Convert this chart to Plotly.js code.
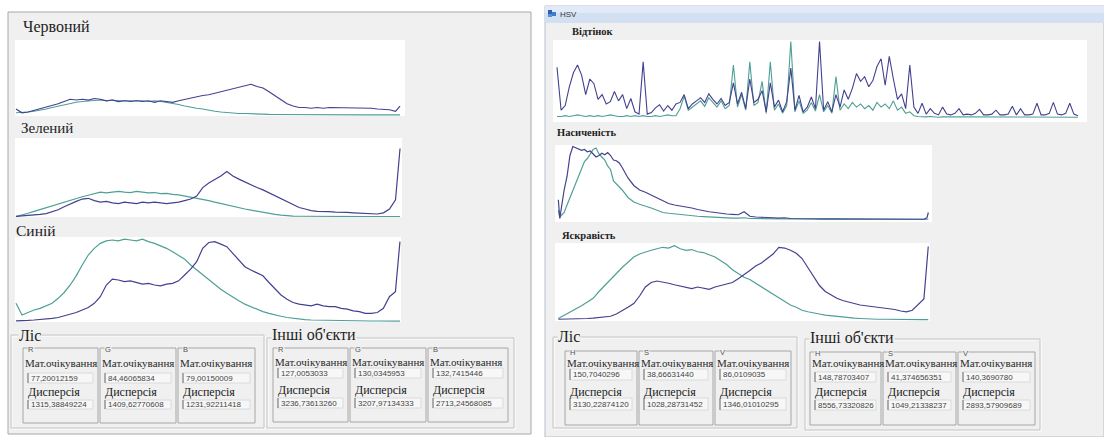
<!DOCTYPE html>
<html>
<head>
<meta charset="utf-8">
<script src="https://cdn.plot.ly/plotly-3.0.1.min.js"></script>
<style>
  html, body { margin: 0; padding: 0; background: #ffffff; }
  #chart { width: 1104px; height: 437px; }
</style>
</head>
<body>
<div id="chart"></div>
<script>
// ---------- Histogram data: bin index -> relative frequency (% of panel height) ----------
const bins4 = [0,4,8,12,16,20,24,28,32,36,40,44,48,52,56,60,64,68,72,76,80,84,88,92,96,100,104,108,112,116,120,124,128,132,136,140,144,148,152,156,160,164,168,172,176,180,184,188,192,196,200,204,208,212,216,220,224,228,232,236,240,244,248,252,255];

// RGB window
const redForest  = [8,3,4,6,8,10,12,15,18,21,20,21,20,22,21,19,20,18,19,18,19,18,19,17,19,18,17,19,21,23,24,26,27,29,30,32,34,36,39,41,38,36,31,26,20,15,12,10,10,9,10,9,10,10,9,10,9,9,10,9,8,8,7,5,12];
const redOther   = [3,3,4,5,6,8,10,12,14,16,17,18,19,20,20,19,20,19,19,20,19,19,18,19,18,17,16,14,12,10,9,8,6,5,4,3,3,2,2,1.5,1.2,1,0.8,0.7,0.6,0.5,0.5,0.4,0.4,0.4,0.3,0.3,0.3,0.3,0.3,0.3,0.2,0.2,0.2,0.2,0.2,0.2,0.2,0.2,0.2];
const greenForest= [0.5,1,2,2.5,3,4,6,9,13,17,20,23,24,21,19,20,18,17,19,18,17,19,18,19,18,17,18,19,21,23,27,38,44,48,53,59,53,49,45,42,38,35,31,27,23,19,15,12,10,8,7,7,6.5,6,6,5.5,5,4.5,4,3.5,3.5,5,10,22,89];
const greenOther = [0,2,4.5,7,9.5,12,14,16.5,19,21,23.5,26,28,30,32,31,32,33,32,31.5,33,32,31,31.5,30,30.5,29,28.5,27,26,24.5,23,21,19,17,15,13,11.5,10,8.5,7,5.5,4,3,2,1.2,0.8,0.6,0.5,0.5,0.4,0.4,0.4,0.3,0.3,0.3,0.3,0.3,0.3,0.2,0.2,0.2,0.2,0.2,0.2];
const blueForest = [1,1,1.5,2,2.5,3,4,5,7,9,11,14,17,22,30,44,51,50,48,49,47,45,46,44,43,45,46,49,56,63,72,88,95,96,93,90,82,74,66,62,58,55,47,39,32,27,23,21,20,19,21,19,18,18,16,15,13,12,10,10,11,16,30,36,96];
const blueOther  = [22,8,11,14,16,19,22,28,35,44,55,68,80,88,94,97,98,97,99,98,97,99,96,94,91,88,84,80,75,68,62,56,50,44,39,34,29,25,21,18,15,12,10,8,6.5,5,4,3,2.5,2,1.8,1.6,1.5,1.4,1.2,1.1,1,1,0.9,0.8,0.8,0.7,0.7,0.6,0.6];

// HSV window
const hueBins = [0,2,4,6,8,10,12,14,16,18,20,22,24,26,28,30,32,34,36,38,40,42,44,46,48,50,52,54,56,58,60,62,64,66,68,70,72,74,76,78,80,82,84,86,88,90,92,94,96,98,100,102,104,106,108,110,112,114,116,118,120,122,124,126,128,130,132,134,136,138,140,142,144,146,148,150,152,154,156,158,160,162,164,166,168,170,172,174,176,178,180,182,184,186,188,190,192,194,196,198,200,202,204,206,208,210,212,214,216,218,220,222,224,226,228,230,232,234,236,238,240,242,244,246,248,250,252,254];
const hueForest = [65,10,16,40,58,68,55,30,50,44,24,30,18,21,34,22,30,12,25,8,5,72,5,7,13,17,9,16,10,18,20,30,12,18,22,26,20,31,24,18,25,16,20,45,18,33,12,50,20,24,35,8,45,14,23,8,21,64,10,29,8,14,27,12,98,10,21,8,30,14,36,24,38,57,47,53,40,48,66,76,42,79,50,24,31,12,68,14,6,19,5,12,6,4,14,5,4,6,12,4,5,4,6,11,4,4,5,10,4,4,5,15,4,12,4,4,5,19,4,4,6,20,5,4,6,19,5,3];
const hueOther  = [2,2,3,2,3,4,3,2,3,2,3,2,3,4,3,2,2,3,2,3,2,3,2,2,3,2,3,4,3,3,12,28,10,14,18,22,15,26,20,14,22,12,16,68,14,30,10,72,16,20,47,6,72,10,18,6,16,98,8,22,6,10,20,9,30,8,16,6,53,10,18,12,20,14,18,12,16,10,20,14,18,12,22,10,14,6,8,3,2,1.5,1.5,2,1.5,1,1.5,1.5,1,1.5,1,1.5,1,1,1.5,1,1,1.5,1,1,1,1,1.5,1,1,1,1.5,1,1,1,1,1,1,1.5,1,1,1,1,1,1];

const satBins = [0,1,2,3,4,6,8,10,12,14,16,18,20,22,24,26,28,30,32,34,36,38,40,42,44,48,52,56,60,64,68,72,76,80,84,88,92,96,100,104,108,112,116,120,124,128,132,136,140,144,148,152,156,160,164,168,172,176,180,184,188,192,196,200,204,208,212,216,220,224,228,232,236,240,244,248,252,254,255];
const satForest = [27,2,15,30,40,58,86,98,96,95,93,94,91,92,88,84,86,89,87,90,86,80,79,76,70,56,46,40,37,33,29,26,22,20,19,17,16,14,12,11,10,8.5,8,7.5,7,11,5,4,4,3,3,2.5,3,2,2,2,1.5,1.5,1,1,1,1,1,1,1,1,1,1,1,1,1,1,1,1,1,1,1,3,10];
const satOther  = [13,3,6,8,10,20,30,40,50,58,68,78,82,89,94,96,88,84,80,72,67,52,48,45,40,30,24,21,19,16,13,10,9,8,7,6,5.5,5,4.5,4,3.5,3,3,2.5,2.5,3,2,2,1.5,1.5,1.5,1.2,1.2,1,1,1,1,1,0.8,0.8,0.8,0.8,0.8,0.8,0.8,0.8,0.8,0.8,0.8,0.8,0.8,0.8,0.8,0.8,0.8,0.8,0.8,1,1];

const valForest = [1,1,1.2,1.5,2,2,2.5,3,4,5,8,12,17,22,32,44,50,52,51,49,47,45,43,42,44,42,41,44,46,47,50,55,60,66,72,76,82,88,97,96,93,89,82,70,58,46,38,33,29,26,24,21,20,19,18,17,17,16,14,12,11,13,20,28,98];
const valOther  = [2,6,10,14,19,24,29,38,46,54,63,70,77,84,88,91,93,95,97,96,99,95,93,94,91,90,87,84,79,74,67,62,57,54,49,44,40,35,29,24,20,17,13,11,9,8,6.5,5.5,4.5,3.5,3,2.5,2,1.5,1.2,1,1,0.8,0.8,0.8,0.6,0.6,0.6,0.5,0.5];

// ---------- Statistics shown in the lower group boxes ----------
const channelsRGB = ['R', 'G', 'B'];
const channelsHSV = ['H', 'S', 'V'];
const forestMeanRGB = ['77,20012159', '84,46065834', '79,00150009'];
const forestVarRGB  = ['1315,38849224', '1409,62770608', '1231,92211418'];
const otherMeanRGB  = ['127,0053033', '130,0345953', '132,7415446'];
const otherVarRGB   = ['3236,73613260', '3207,97134333', '2713,24568085'];
const forestMeanHSV = ['150,7040296', '38,66631440', '86,0109035'];
const forestVarHSV  = ['3130,22874120', '1028,28731452', '1346,01010295'];
const otherMeanHSV  = ['148,78703407', '41,374656351', '140,3690780'];
const otherVarHSV   = ['8556,73320826', '1049,21338237', '2893,57909689'];

// ---------- Page geometry (pixels) ----------
const W = 1104, H = 437;
const px = v => v / W;
const py = v => 1 - v / H;
const SERIF = 'Liberation Serif';
const SANS = 'Liberation Sans';
const BG = '#f0f0f0';
const C_FOREST = '#43418f';
const C_OTHER = '#4f9f96';

const panels = [
  { x: bins4,   a: redOther,   b: redForest,   box: [15, 40, 405, 116],   xr: [-0.66, 258.3], yr: [-1.3, 100] },
  { x: bins4,   a: greenOther, b: greenForest, box: [15, 138, 402, 217],  xr: [-0.66, 256.3], yr: [-0.4, 102.6] },
  { x: bins4,   a: blueOther,  b: blueForest,  box: [15, 237, 401, 322],  xr: [-0.66, 255.7], yr: [-0.4, 101.6] },
  { x: hueBins, a: hueOther,   b: hueForest,   box: [553, 40, 1087, 122], xr: [-1.95, 258.4], yr: [-5.1, 100] },
  { x: satBins, a: satOther,   b: satForest,   box: [555, 145, 932, 222], xr: [-2.3, 257.5],  yr: [-2.7, 100] },
  { x: bins4,   a: valOther,   b: valForest,   box: [555, 243, 930, 321], xr: [-2.3, 256.2],  yr: [-1.3, 102.7] }
];

const traces = [];
const layout = {
  width: W, height: H,
  margin: { l: 0, r: 0, t: 0, b: 0, pad: 0 },
  paper_bgcolor: '#ffffff',
  plot_bgcolor: 'rgba(0,0,0,0)',
  showlegend: false,
  font: { family: SERIF },
  shapes: [],
  annotations: []
};

function rect(x0, y0, x1, y1, fill, line, lw) {
  layout.shapes.push({
    type: 'rect', xref: 'paper', yref: 'paper', layer: 'below',
    x0: px(x0), x1: px(x1), y0: py(y1), y1: py(y0),
    fillcolor: fill || 'rgba(0,0,0,0)',
    line: { color: line || 'rgba(0,0,0,0)', width: line ? (lw || 1) : 0 }
  });
}
function vline(x, y0, y1, color) {
  layout.shapes.push({ type: 'line', xref: 'paper', yref: 'paper', layer: 'below',
    x0: px(x), x1: px(x), y0: py(y0), y1: py(y1), line: { color: color, width: 1 } });
}
function text(t, x, y, size, family, color, opts) {
  layout.annotations.push(Object.assign({
    text: t, x: px(x), y: py(y), xref: 'paper', yref: 'paper',
    xanchor: 'left', yanchor: 'middle', showarrow: false,
    font: { size: size, family: family, color: color }, borderpad: 0
  }, opts || {}));
}

// window frames
rect(8, 12, 531, 434, BG, '#a8a8a8');
rect(545, 6, 1104, 437, BG, '#b4bccb');
rect(545, 6, 1104, 23, '#d3e0f1', null);
rect(545, 6, 1104, 13, '#e1eaf6', null);
rect(548, 10, 552, 14, '#2f5fb8', null);
rect(552, 12, 556, 16, '#3b7bd0', null);
rect(548, 14, 552, 17, '#5b8fd8', null);
text('HSV', 559, 14, 8, SANS, '#3a3a3a');

// histogram panels
panels.forEach((p, i) => {
  const n = i === 0 ? '' : String(i + 1);
  const [x0, y0, x1, y1] = p.box;
  rect(x0, y0, x1, y1, '#ffffff', null);
  layout['xaxis' + n] = { domain: [px(x0), px(x1)], range: p.xr, visible: false, fixedrange: true, anchor: 'y' + n };
  layout['yaxis' + n] = { domain: [py(y1), py(y0)], range: p.yr, visible: false, fixedrange: true, anchor: 'x' + n };
  const lw = i === 3 ? 1.1 : 1.2;
  traces.push({ x: p.x, y: p.a, type: 'scatter', mode: 'lines', xaxis: 'x' + n, yaxis: 'y' + n,
    line: { color: C_OTHER, width: lw }, hoverinfo: 'skip' });
  traces.push({ x: p.x, y: p.b, type: 'scatter', mode: 'lines', xaxis: 'x' + n, yaxis: 'y' + n,
    line: { color: C_FOREST, width: lw }, hoverinfo: 'skip' });
});

// panel captions
text('Червоний', 22, 27, 16, SERIF, '#222222');
text('Зелений', 20, 128, 15, SERIF, '#222222');
text('Синій', 15, 230, 15.5, SERIF, '#222222');
text('<b>Відтінок</b>', 571, 32, 10.5, SERIF, '#1e1e1e');
text('<b>Насиченість</b>', 556, 132, 10.5, SERIF, '#1e1e1e');
text('<b>Яскравість</b>', 561, 235, 10.5, SERIF, '#1e1e1e');

// statistics group boxes
const groups = [
  { title: 'Ліс', tx: 18, ty: 335, frame: [11, 335, 264, 428], edges: [23, 100, 178, 257],
    y0: 348, yMat: 363, vBox: [373, 383], yDisp: 392, dBox: [400, 409], yBot: 423,
    ch: channelsRGB, mean: forestMeanRGB, disp: forestVarRGB },
  { title: "Інші об'єкти", tx: 271, ty: 334, frame: [267, 338, 514, 428], edges: [273, 350, 428, 510],
    y0: 348, yMat: 362, vBox: [368, 378], yDisp: 390, dBox: [398, 408], yBot: 422,
    ch: channelsRGB, mean: otherMeanRGB, disp: otherVarRGB },
  { title: 'Ліс', tx: 557, ty: 336, frame: [553, 337, 797, 428], edges: [565, 639, 715, 793],
    y0: 351, yMat: 363, vBox: [369, 380], yDisp: 392, dBox: [398, 410], yBot: 425,
    ch: channelsHSV, mean: forestMeanHSV, disp: forestVarHSV },
  { title: "Інші об'єкти", tx: 809, ty: 337, frame: [805, 339, 1040, 430], edges: [810, 883, 958, 1037],
    y0: 352, yMat: 363, vBox: [372, 382], yDisp: 392, dBox: [400, 410], yBot: 425,
    ch: channelsHSV, mean: otherMeanHSV, disp: otherVarHSV }
];

groups.forEach(g => {
  const [fx0, fy0, fx1, fy1] = g.frame;
  rect(fx0 + 1, fy0 + 1, fx1 + 1, fy1 + 1, null, '#ffffff');
  rect(fx0, fy0, fx1, fy1, null, '#c4c4c4');
  text(g.title, g.tx, g.ty, 16, SERIF, '#1e1e1e', { bgcolor: BG });
  for (let k = 0; k < 3; k++) {
    const xa = g.edges[k], xb = g.edges[k + 1];
    rect(xa, g.y0, xb - 2, g.yBot, null, '#a6a6a6');
    text(g.ch[k], xa + 4, g.y0 + 1, 7.5, SANS, '#555555', { bgcolor: BG });
    text('Мат.очікування', xa + 1, g.yMat, 11, SERIF, '#2a2a2a');
    rect(xa + 5, g.vBox[0], xb - 7, g.vBox[1], '#f7f7f7', '#dadada');
    vline(xa + 5, g.vBox[0], g.vBox[1], '#6e6e6e');
    text(g.mean[k], xa + 7, (g.vBox[0] + g.vBox[1]) / 2, 8, SANS, '#444444');
    text('Дисперсія', xa + 4, g.yDisp, 12, SERIF, '#222222');
    rect(xa + 5, g.dBox[0], xb - 7, g.dBox[1], '#f7f7f7', '#dadada');
    vline(xa + 5, g.dBox[0], g.dBox[1], '#6e6e6e');
    text(g.disp[k], xa + 7, (g.dBox[0] + g.dBox[1]) / 2, 8, SANS, '#444444');
  }
});

Plotly.newPlot('chart', traces, layout, { staticPlot: true, displayModeBar: false });
</script>
</body>
</html>
